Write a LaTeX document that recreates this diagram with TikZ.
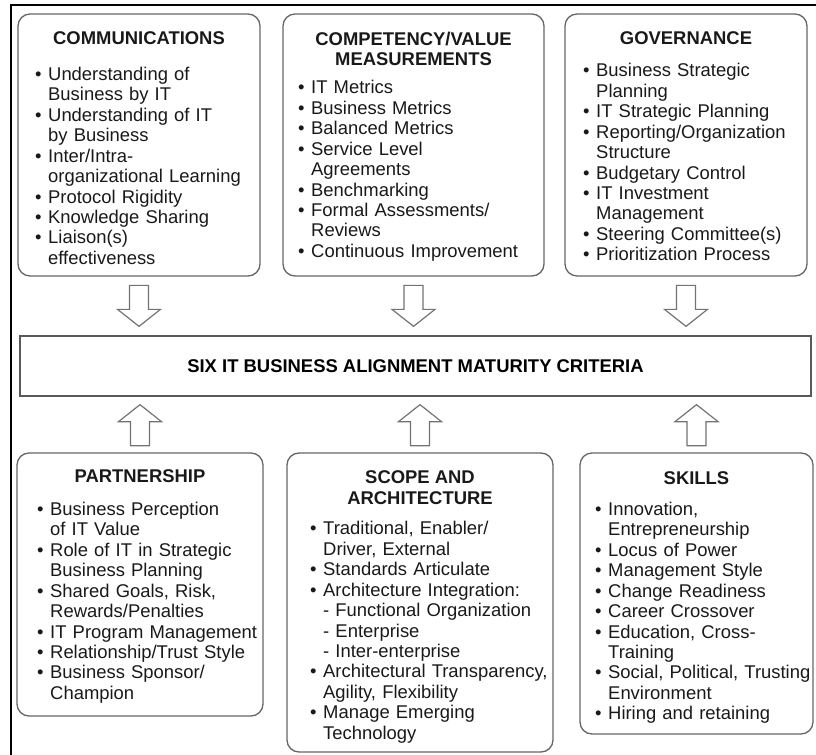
\documentclass[tikz,border=0pt]{standalone}
\usepackage{fontspec}
\setmainfont{Liberation Sans}
\usetikzlibrary{calc}

\newcommand{\itm}{\par\noindent\makebox[13bp][l]{\textbullet}}
\newcommand{\nxt}{\par\noindent\hspace*{13bp}}

\tikzset{
	critbox/.style={draw=black!60,line width=1.3bp,rounded corners=12bp,inner sep=0pt},
	centbox/.style={draw=black!65,line width=1.3bp,inner sep=0pt,font=\bfseries\fontsize{18.5}{20.6}\selectfont},
	head/.style={anchor=north,inner sep=0pt,align=center,text=black!90,font=\bfseries\fontsize{18.5}{20.6}\selectfont},
	list/.style={anchor=north west,inner sep=0pt,text width=240bp,align=left,text=black!90,font=\fontsize{18.5}{20.55}\selectfont},
	arr/.style={draw=black!55,line width=1.2bp,fill=white},
	pics/dnarrow/.style={code={
		\draw[arr] (-9.5,41) -- (9.5,41) -- (9.5,17) -- (21.5,17) -- (0,0) -- (-21.5,17) -- (-9.5,17) -- cycle;}}
}

\begin{document}
\begin{tikzpicture}[x=1bp,y=1bp]
	\useasboundingbox (0,0) rectangle (816,-755);
	\draw[line width=2bp] (11,-755) -- (11,-5) -- (816,-5);
	%
	\node [critbox,minimum width=242bp,minimum height=262bp] (comm) at (139,-145) {};
	\node [critbox,minimum width=261bp,minimum height=262bp] (comp) at (413.5,-145) {};
	\node [critbox,minimum width=242bp,minimum height=262bp] (gov) at (686,-145) {};
	\node [centbox,minimum width=791bp,minimum height=60bp] (crit) at (415.5,-366) {SIX IT BUSINESS ALIGNMENT MATURITY CRITERIA};
	\node [critbox,minimum width=246bp,minimum height=263bp] (part) at (140,-584.5) {};
	\node [critbox,minimum width=266bp,minimum height=299bp] (scope) at (420,-602.5) {};
	\node [critbox,minimum width=233bp,minimum height=281bp] (skill) at (696.5,-593.5) {};
	%
	\node [head] (commhead) at (139,-31.7) {COMMUNICATIONS};
	\node [head] (comphead) at (413.5,-31.7) {COMPETENCY/VALUE\\MEASUREMENTS};
	\node [head] (govhead) at (686,-31.7) {GOVERNANCE};
	\node [head] (parthead) at (140,-469.7) {PARTNERSHIP};
	\node [head] (scopehead) at (420,-470.7) {SCOPE AND\\ARCHITECTURE};
	\node [head] (skillhead) at (696.5,-471.7) {SKILLS};
	%
	\node [list] (commlist) at (35,-59.5) {
		\itm Understanding of\nxt Business by IT
		\itm Understanding of IT\nxt by Business
		\itm Inter/Intra-\nxt organizational Learning
		\itm Protocol Rigidity
		\itm Knowledge Sharing
		\itm Liaison(s)\nxt effectiveness};
	\node [list] (complist) at (298,-73) {
		\itm IT Metrics
		\itm Business Metrics
		\itm Balanced Metrics
		\itm Service Level\nxt Agreements
		\itm Benchmarking
		\itm Formal Assessments/\nxt Reviews
		\itm Continuous Improvement};
	\node [list] (govlist) at (583,-56) {
		\itm Business Strategic\nxt Planning
		\itm IT Strategic Planning
		\itm Reporting/Organization\nxt Structure
		\itm Budgetary Control
		\itm IT Investment\nxt Management
		\itm Steering Committee(s)
		\itm Prioritization Process};
	\node [list] (partlist) at (37,-494.5) {
		\itm Business Perception\nxt of IT Value
		\itm Role of IT in Strategic\nxt Business Planning
		\itm Shared Goals, Risk,\nxt Rewards/Penalties
		\itm IT Program Management
		\itm Relationship/Trust Style
		\itm Business Sponsor/\nxt Champion};
	\node [list] (scopelist) at (310,-514) {
		\itm Traditional, Enabler/\nxt Driver, External
		\itm Standards Articulate
		\itm Architecture Integration:\nxt - Functional Organization\nxt - Enterprise\nxt - Inter-enterprise
		\itm Architectural Transparency,\nxt Agility, Flexibility
		\itm Manage Emerging\nxt Technology};
	\node [list] (skilllist) at (595,-494.5) {
		\itm Innovation,\nxt Entrepreneurship
		\itm Locus of Power
		\itm Management Style
		\itm Change Readiness
		\itm Career Crossover
		\itm Education, Cross-\nxt Training
		\itm Social, Political, Trusting\nxt Environment
		\itm Hiring and retaining};
	%
	\pic at ($(crit.north -| comm.south)+(0,9)$) {dnarrow};
	\pic at ($(crit.north -| comp.south)+(0,9)$) {dnarrow};
	\pic at ($(crit.north -| gov.south)+(0,9)$) {dnarrow};
	\pic [rotate=180] at ($(crit.south -| part.north)+(0,-8)$) {dnarrow};
	\pic [rotate=180] at ($(crit.south -| scope.north)+(0,-8)$) {dnarrow};
	\pic [rotate=180] at ($(crit.south -| skill.north)+(0,-8)$) {dnarrow};
\end{tikzpicture}
\end{document}
